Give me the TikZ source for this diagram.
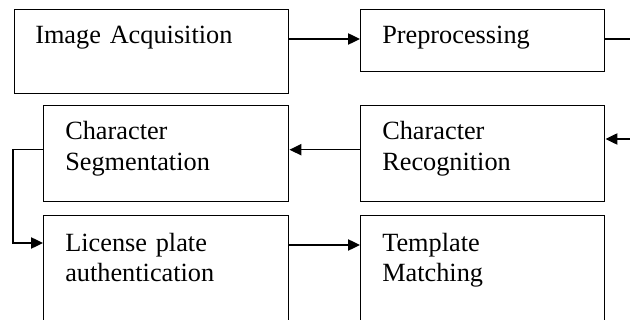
\documentclass[tikz,border=0pt]{standalone}
\usepackage{fontspec}
\setmainfont{Liberation Serif}
\usetikzlibrary{calc,arrows.meta}

\begin{document}
\begin{tikzpicture}[x=0.025cm, y=-0.025cm,
    box/.style={draw, line width=1pt, anchor=north west, inner sep=0pt},
    txt/.style={anchor=base west, inner sep=0pt, text width=5cm, align=left,
      font=\fontsize{18.7}{21.5}\selectfont},
    arr/.style={line width=1pt, -{Triangle[length=8.5pt, width=8pt]}},
    ln/.style={line width=1pt}]
  \useasboundingbox (0, 0) rectangle (630, 320);
  \fill[white] (0, 0) rectangle (630, 320);
  \clip (0, 0) rectangle (630, 320);

  \node[box, minimum width=6.85cm, minimum height=2.1cm] (acq) at (14, 9) {};
  \node[box, minimum width=6.1cm, minimum height=1.55cm] (pre) at (360, 9) {};
  \node[box, minimum width=6.125cm, minimum height=2.4cm] (seg) at (43, 105) {};
  \node[box, minimum width=6.1cm, minimum height=2.4cm] (rec) at (360, 105) {};
  \node[box, minimum width=6.125cm, minimum height=3cm] (lic) at (43, 215) {};
  \node[box, minimum width=6.1cm, minimum height=3cm] (tem) at (360, 215) {};

  \node[txt] (acqT) at ($(acq.north west)+(21, 35)$) {Image Acquisition};
  \node[txt] (preT) at ($(pre.north west)+(22, 35)$) {Preprocessing};
  \node[txt] (segT) at ($(seg.north west)+(22, 35)$) {Character\\Segmentation};
  \node[txt] (recT) at ($(rec.north west)+(22, 35)$) {Character\\Recognition};
  \node[txt] (licT) at ($(lic.north west)+(22, 36)$) {License plate\\authentication};
  \node[txt] (temT) at ($(tem.north west)+(22, 36)$) {Template\\Matching};

  \coordinate (outR) at (650, 39);
  \coordinate (inR) at (650, 139);
  \coordinate (lk) at (13, 243);

  \draw[arr] (acq.east |- outR) -- (pre.west |- outR);
  \draw[ln] (pre.east |- outR) -- (outR);
  \draw[arr] (inR) -- (rec.east |- inR);
  \draw[arr] ($(rec.west)+(0, -4)$) -- ($(seg.east)+(0, -4)$);
  \draw[arr] ($(seg.west)+(0, -4)$) -| (lk) -- (lic.west |- lk);
  \draw[arr] ($(lk -| lic.east)+(0, 2)$) -- ($(lk -| tem.west)+(0, 2)$);
\end{tikzpicture}
\end{document}
